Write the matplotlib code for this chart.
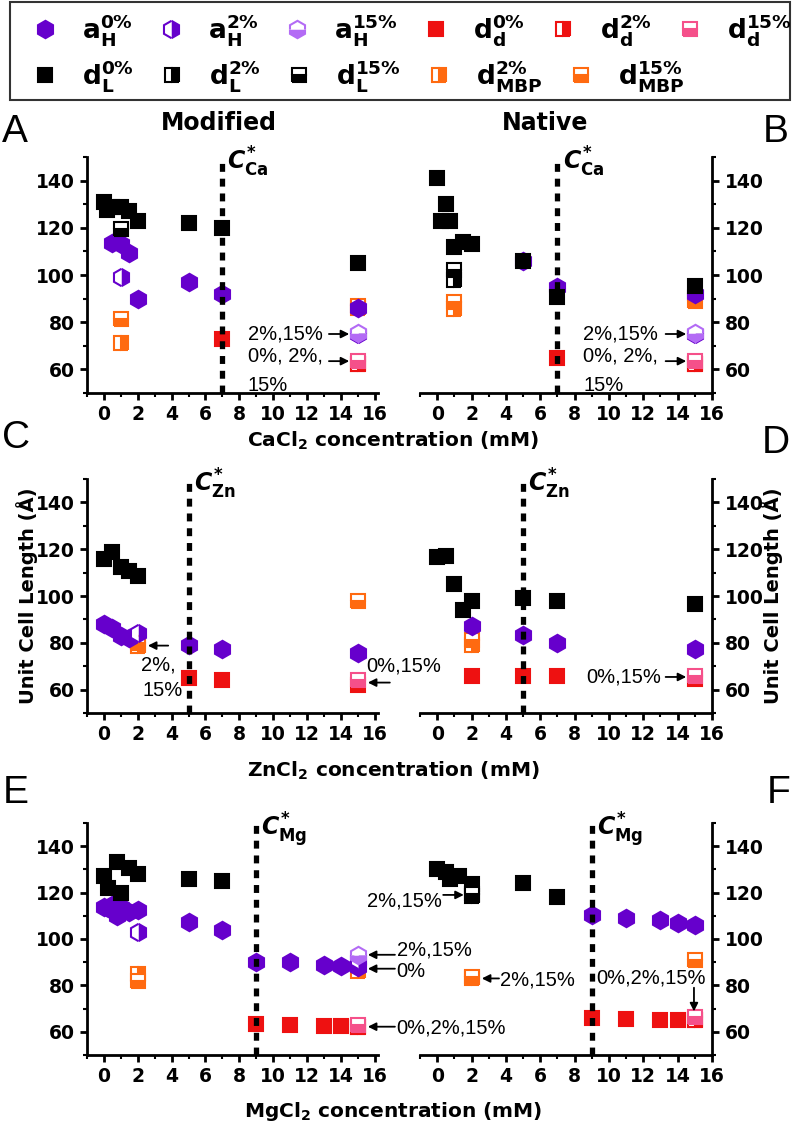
import matplotlib
matplotlib.use('Agg')
import matplotlib.pyplot as plt
from matplotlib.lines import Line2D
from matplotlib.patches import Rectangle
from matplotlib.ticker import MultipleLocator

plt.rcParams['font.family'] = 'DejaVu Sans'
plt.rcParams['font.weight'] = 'bold'
plt.rcParams['mathtext.fontset'] = 'custom'
plt.rcParams['mathtext.rm'] = 'DejaVu Sans:bold'
plt.rcParams['mathtext.it'] = 'DejaVu Sans:italic:bold'
plt.rcParams['mathtext.bf'] = 'DejaVu Sans:bold'

# ---------------- data (concentration mM, length A) ----------------
# A: modified, CaCl2
A_aH0_x = [0.5, 1, 1.5, 2, 5, 7, 15]
A_aH0_y = [113.5, 113, 109.5, 90, 97, 92, 86]
A_aH2_x = [1, 15]
A_aH2_y = [99, 75]
A_aH15_x = [15]
A_aH15_y = [75.5]
A_dd0_x = [7, 15]
A_dd0_y = [73, 62.5]
A_dd2_x = [15]
A_dd2_y = [62.5]
A_dd15_x = [15]
A_dd15_y = [63.5]
A_dL0_x = [0, 0.2, 0.5, 1, 1.5, 2, 5, 7, 15]
A_dL0_y = [131, 127.5, 129, 129, 127, 123, 122, 120, 105]
A_dL15_x = [1]
A_dL15_y = [119.5]
A_dMBP2_x = [1, 15]
A_dMBP2_y = [71, 86]
A_dMBP15_x = [1, 15]
A_dMBP15_y = [81.5, 87]

# B: native, CaCl2
B_aH0_x = [5, 7, 15]
B_aH0_y = [106, 95, 92]
B_aH2_x = [15]
B_aH2_y = [75]
B_aH15_x = [15]
B_aH15_y = [75.5]
B_dd0_x = [7, 15]
B_dd0_y = [65, 62.5]
B_dd2_x = [15]
B_dd2_y = [62.5]
B_dd15_x = [15]
B_dd15_y = [63.5]
B_dL0_x = [0, 0.5, 0.25, 0.75, 1, 1.5, 2, 5, 7, 15]
B_dL0_y = [141, 130, 123, 123, 112, 114, 113, 106, 90.5, 95.5]
B_dL2_x = [1]
B_dL2_y = [98]
B_dL15_x = [1]
B_dL15_y = [102]
B_dMBP2_x = [1]
B_dMBP2_y = [85.5]
B_dMBP15_x = [1, 15]
B_dMBP15_y = [88.5, 89]

# C: modified, ZnCl2
C_aH0_x = [0, 0.5, 1, 1.5, 5, 7, 15]
C_aH0_y = [88, 86.5, 83, 82, 79, 77.5, 75.5]
C_aH2_x = [2]
C_aH2_y = [84]
C_dd0_x = [5, 7, 15]
C_dd0_y = [65, 64.3, 62]
C_dd15_x = [15]
C_dd15_y = [64]
C_dL0_x = [0, 0.5, 1, 1.5, 2]
C_dL0_y = [116, 119, 112.5, 110.5, 108.5]
C_dMBP2_x = [2]
C_dMBP2_y = [78.5]
C_dMBP15_x = [2, 15]
C_dMBP15_y = [80, 98]

# D: native, ZnCl2
D_aH0_x = [2, 5, 7, 15]
D_aH0_y = [87, 83.5, 80, 77.5]
D_dd0_x = [2, 5, 7, 15]
D_dd0_y = [66, 66, 66, 64.5]
D_dd15_x = [15]
D_dd15_y = [66]
D_dL0_x = [0, 0.5, 1, 1.5, 2, 5, 7, 15]
D_dL0_y = [116.5, 117, 105, 94, 98, 99, 98, 96.5]
D_dMBP2_x = [2]
D_dMBP2_y = [79]
D_dMBP15_x = [2]
D_dMBP15_y = [81]

# E: modified, MgCl2
E_aH0_x = [0, 0.25, 0.5, 0.75, 1, 1.5, 2, 5, 7, 9, 11, 13, 14, 15]
E_aH0_y = [114, 113.5, 114.5, 110, 114, 111.5, 112.5, 107.5, 104, 90, 90, 89, 88.5, 88]
E_aH2_x = [2, 15]
E_aH2_y = [103, 91]
E_aH15_x = [15]
E_aH15_y = [93]
E_dd0_x = [9, 11, 13, 14, 15]
E_dd0_y = [63.5, 63, 62.5, 62.5, 62]
E_dd2_x = [15]
E_dd2_y = [62]
E_dd15_x = [15]
E_dd15_y = [63]
E_dL0_x = [0, 0.25, 0.75, 1, 1.5, 2, 5, 7]
E_dL0_y = [127, 122, 133, 120, 130.5, 128, 126, 125]
E_dMBP2_x = [2, 15]
E_dMBP2_y = [85, 86]
E_dMBP15_x = [2]
E_dMBP15_y = [82]

# F: native, MgCl2
F_aH0_x = [9, 11, 13, 14, 15]
F_aH0_y = [110.5, 109, 108, 107, 106]
F_dd0_x = [9, 11, 13, 14, 15]
F_dd0_y = [66, 65.5, 65, 65, 65]
F_dd2_x = [15]
F_dd2_y = [65]
F_dd15_x = [15]
F_dd15_y = [66.5]
F_dL0_x = [0, 0.5, 0.75, 1.25, 2, 5, 7]
F_dL0_y = [130, 129, 126, 127, 123.5, 124, 118]
F_dL2_x = [2]
F_dL2_y = [118.5]
F_dL15_x = [2]
F_dL15_y = [119.5]
F_dMBP2_x = [2]
F_dMBP2_y = [83]
F_dMBP15_x = [2, 15]
F_dMBP15_y = [83.5, 91]

cstar = {'A': 7, 'B': 7, 'C': 5, 'D': 5, 'E': 9, 'F': 9}
ions = {'A': 'Ca', 'B': 'Ca', 'C': 'Zn', 'D': 'Zn', 'E': 'Mg', 'F': 'Mg'}

# ---------------- styles ----------------
PURPLE = '#6600cc'
LPURPLE = '#b36bf5'
RED = '#ee1111'
PINK = '#f5508a'
ORANGE = '#ff6a10'
BLACK = '#000000'
HEX = 12.5
SQ = 10

styles = {
    'aH0': dict(marker='h', ms=HEX, mfc=PURPLE, mec=PURPLE),
    'aH2': dict(marker='h', ms=HEX, mfc=PURPLE, mec=PURPLE, mfcalt='white', fillstyle='right'),
    'aH15': dict(marker='h', ms=HEX, mfc=LPURPLE, mec=LPURPLE, mfcalt='white', fillstyle='bottom'),
    'dd0': dict(marker='s', ms=SQ, mfc=RED, mec=RED),
    'dd2': dict(marker='s', ms=SQ, mfc=RED, mec=RED, mfcalt='white', fillstyle='right'),
    'dd15': dict(marker='s', ms=SQ, mfc=PINK, mec=PINK, mfcalt='white', fillstyle='bottom'),
    'dL0': dict(marker='s', ms=SQ, mfc=BLACK, mec=BLACK),
    'dL2': dict(marker='s', ms=SQ, mfc=BLACK, mec=BLACK, mfcalt='white', fillstyle='right'),
    'dL15': dict(marker='s', ms=SQ, mfc=BLACK, mec=BLACK, mfcalt='white', fillstyle='bottom'),
    'dMBP2': dict(marker='s', ms=SQ, mfc=ORANGE, mec=ORANGE, mfcalt='white', fillstyle='right'),
    'dMBP15': dict(marker='s', ms=SQ, mfc=ORANGE, mec=ORANGE, mfcalt='white', fillstyle='bottom'),
}
labels = {
    'aH0': r'$\mathrm{a}_\mathrm{H}^\mathrm{0\%}$',
    'aH2': r'$\mathrm{a}_\mathrm{H}^\mathrm{2\%}$',
    'aH15': r'$\mathrm{a}_\mathrm{H}^\mathrm{15\%}$',
    'dd0': r'$\mathrm{d}_\mathrm{d}^\mathrm{0\%}$',
    'dd2': r'$\mathrm{d}_\mathrm{d}^\mathrm{2\%}$',
    'dd15': r'$\mathrm{d}_\mathrm{d}^\mathrm{15\%}$',
    'dL0': r'$\mathrm{d}_\mathrm{L}^\mathrm{0\%}$',
    'dL2': r'$\mathrm{d}_\mathrm{L}^\mathrm{2\%}$',
    'dL15': r'$\mathrm{d}_\mathrm{L}^\mathrm{15\%}$',
    'dMBP2': r'$\mathrm{d}_\mathrm{MBP}^\mathrm{2\%}$',
    'dMBP15': r'$\mathrm{d}_\mathrm{MBP}^\mathrm{15\%}$',
}
draw_order = ['dMBP2', 'dMBP15', 'aH0', 'aH2', 'aH15', 'dL0', 'dL2', 'dL15', 'dd0', 'dd2', 'dd15']

g = globals()
W, H = 796, 1127
fig = plt.figure(figsize=(W / 100, H / 100), dpi=100)

def fx(px):
    return px / W

def fy(py):
    return 1 - py / H

rows = [(157, 393), (479, 713), (823, 1055)]
cols = [(87, 378), (420, 712)]
axes = {}
for r, (top, bot) in enumerate(rows):
    for c, (left, right) in enumerate(cols):
        name = 'ABCDEF'[2 * r + c]
        ax = fig.add_axes([fx(left), fy(bot), fx(right - left), (bot - top) / H])
        axes[name] = ax
        ax.set_ylim(50, 150)
        ax.set_xlim(-1, 16.2 if c == 0 else 16)
        ax.xaxis.set_major_locator(MultipleLocator(2))
        ax.xaxis.set_minor_locator(MultipleLocator(1))
        ax.yaxis.set_major_locator(MultipleLocator(20))
        ax.yaxis.set_minor_locator(MultipleLocator(10))
        ax.spines['top'].set_visible(False)
        if c == 0:
            ax.spines['right'].set_visible(False)
        else:
            ax.spines['left'].set_visible(False)
            ax.yaxis.tick_right()
        for s in ax.spines.values():
            s.set_linewidth(2)
        ax.tick_params(which='major', direction='out', length=5, width=2, labelsize=13.5, pad=4)
        ax.tick_params(which='minor', direction='out', length=3, width=1.5)
        ax.patch.set_alpha(0)

        for key in draw_order:
            xs = g.get(name + '_' + key + '_x')
            if xs is None:
                continue
            ys = g[name + '_' + key + '_y']
            ax.plot(xs, ys, ls='none', mew=1.5, zorder=3, clip_on=False, **styles[key])

        cs = cstar[name]
        ax.axvline(cs, color='k', lw=3.8, ls=(0, (1.5, 1.3)), zorder=5)
        ax.text(cs + 0.3, 144.5, r'$C^{*}_{\mathrm{%s}}$' % ions[name], fontsize=17,
                ha='left', va='baseline')

ann_kw = dict(fontsize=14.5, family='Liberation Sans', fontweight='normal', va='center', clip_on=False)

def note(ax, x, y, s, ha='left'):
    ax.text(x, y, s, ha=ha, **ann_kw)

def arrow(ax, x0, y0, x1, y1):
    ax.annotate('', xy=(x1, y1), xytext=(x0, y0), annotation_clip=False,
                arrowprops=dict(arrowstyle='-|>', color='k', lw=1.3, mutation_scale=12,
                                shrinkA=0, shrinkB=0))

for name in ['A', 'B']:
    ax = axes[name]
    note(ax, 8.5, 75, '2%,15%')
    arrow(ax, 13.3, 75, 14.5, 75)
    note(ax, 8.5, 65.5, '0%, 2%,')
    arrow(ax, 13.3, 63.5, 14.5, 63.5)
    note(ax, 8.5, 53, '15%')

ax = axes['C']
note(ax, 2.2, 70.5, '2%,')
note(ax, 2.3, 59.5, '15%')
arrow(ax, 3.8, 78.8, 2.6, 78.8)
note(ax, 15.5, 70, '0%,15%')
arrow(ax, 16.9, 63, 15.6, 63)

ax = axes['D']
note(ax, 8.7, 65.3, '0%,15%')
arrow(ax, 13.3, 65.4, 14.5, 65.4)

ax = axes['E']
note(ax, 17.3, 95.2, '2%,15%')
arrow(ax, 17.2, 93.2, 15.6, 93.2)
note(ax, 17.3, 86, '0%')
arrow(ax, 17.2, 87.2, 15.6, 87.2)
note(ax, 17.3, 61.5, '0%,2%,15%')
arrow(ax, 17.2, 62.2, 15.6, 62.2)

ax = axes['F']
note(ax, 0.3, 116.3, '2%,15%', ha='right')
arrow(ax, 0.35, 119, 1.55, 119)
note(ax, 3.65, 82.5, '2%,15%')
arrow(ax, 3.6, 83, 2.6, 83)
note(ax, 9.25, 83, '0%,2%,15%')
arrow(ax, 14.95, 79, 14.95, 68.8)

# titles, panel letters, axis labels
fig.text(fx(219), fy(130), 'Modified', fontsize=17, ha='center', va='baseline')
fig.text(fx(545), fy(130), 'Native', fontsize=17, ha='center', va='baseline')
letters = {'A': (2, 142), 'B': (763, 142), 'C': (2, 448), 'D': (762, 453), 'E': (3, 803), 'F': (767, 803)}
for k, (px, py) in letters.items():
    fig.text(fx(px), fy(py), k, fontsize=28, family='Liberation Sans', fontweight='normal',
             ha='left', va='baseline')
xlabels = [('CaCl$_2$ concentration (mM)', 447), ('ZnCl$_2$ concentration (mM)', 777),
           ('MgCl$_2$ concentration (mM)', 1117)]
for s, py in xlabels:
    fig.text(fx(393), fy(py), s, fontsize=14.5, ha='center', va='baseline')
fig.text(fx(27), fy(596), 'Unit Cell Length (Å)', fontsize=14, rotation=90, ha='center', va='center')
fig.text(fx(772), fy(596), 'Unit Cell Length (Å)', fontsize=14, rotation=90, ha='center', va='center')

# legend box with two rows
row1 = ['aH0', 'aH2', 'aH15', 'dd0', 'dd2', 'dd15']
row2 = ['dL0', 'dL2', 'dL15', 'dMBP2', 'dMBP15']
for keys, py in [(row1, 30), (row2, 76)]:
    hs = [Line2D([], [], ls='none', mew=1.5, **styles[k]) for k in keys]
    fig.legend(hs, [labels[k] for k in keys], ncol=len(keys), loc='center left',
               bbox_to_anchor=(fx(34), fy(py)), frameon=False, fontsize=19,
               handlelength=0.8, handletextpad=1.0, columnspacing=1.05,
               borderpad=0, borderaxespad=0)
fig.add_artist(Rectangle((fx(10), fy(100)), fx(780), 98 / H, transform=fig.transFigure,
                         fill=False, lw=1.5, ec='#333333'))

fig.savefig('out.png', dpi=100)
